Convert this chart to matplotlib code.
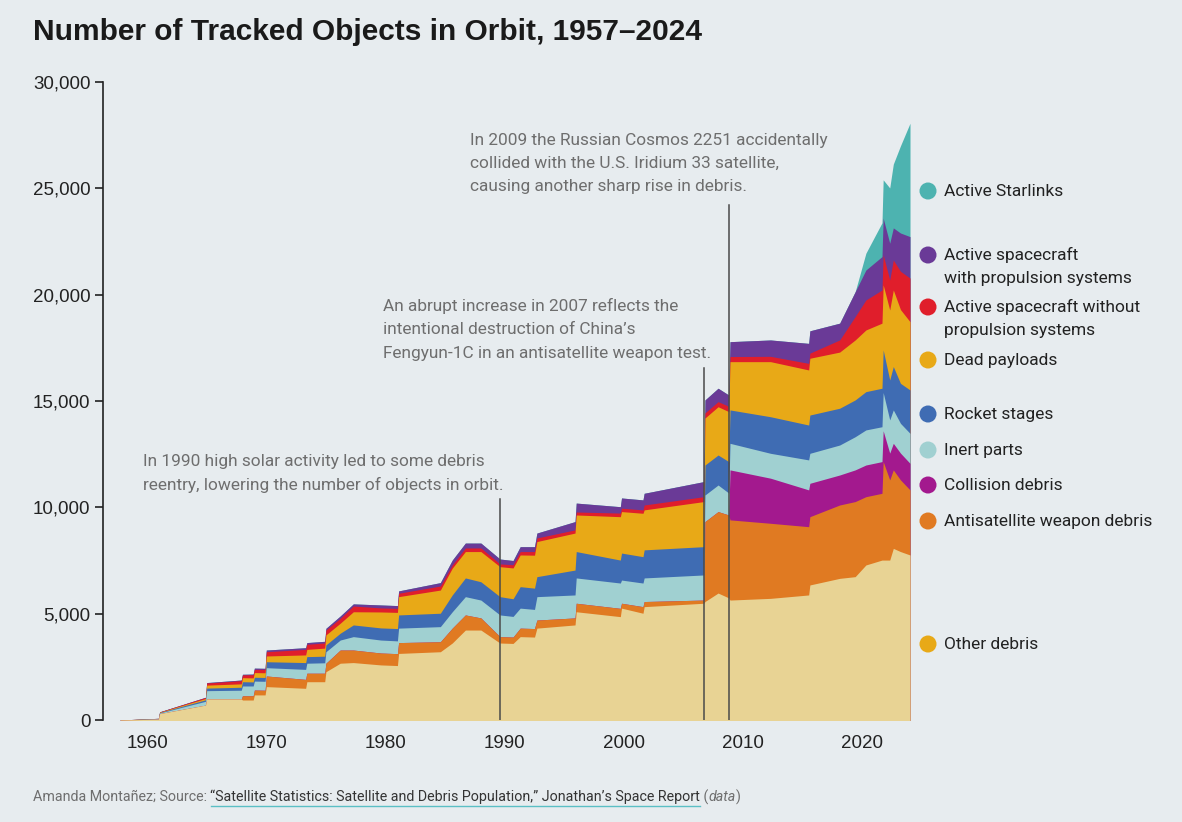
"""
Number of tracked objects in orbit, stacked by object type
"""

import matplotlib
matplotlib.use("Agg")
import matplotlib.pyplot as plt
import matplotlib.font_manager as fm
import numpy as np

# fonts: condensed face if we have one
names = {f.name for f in fm.fontManager.ttflist}
NARROW = 'Liberation Sans Narrow' if 'Liberation Sans Narrow' in names else 'Roboto'
PLAIN = 'Liberation Sans'

BG = '#E7ECEF'

# ---- data ----
years = [1957.75, 1960.95, 1961.05, 1964.9, 1965.0, 1967.9, 1968.0, 1968.9, 1969.0, 1969.9,
         1970.0, 1973.3, 1973.4, 1974.9, 1975.0, 1976.2, 1977.3, 1979.6, 1981.0, 1981.1,
         1984.6, 1985.6, 1986.7, 1988.0, 1989.6, 1990.7, 1991.3, 1992.5, 1992.7, 1995.9,
         1996.0, 1999.7, 1999.8, 2001.6, 2001.7, 2006.7, 2006.8, 2007.9, 2008.8, 2008.9,
         2012.3, 2015.5, 2015.6, 2018.1, 2019.4, 2020.3, 2021.65, 2021.75, 2022.3, 2022.6,
         2023.2, 2024.0]

other_debris = [1, 40, 300, 700, 990, 990, 940, 940, 1180, 1180,
                1570, 1490, 1800, 1800, 2270, 2670, 2700, 2590, 2560, 3130,
                3210, 3620, 4230, 4230, 3620, 3600, 3920, 3900, 4320, 4470,
                5090, 4860, 5260, 5020, 5330, 5490, 5570, 5970, 5740, 5640,
                5720, 5880, 6350, 6660, 6740, 7290, 7520, 7520, 7520, 8070,
                7920, 7760]
asat_debris = [0, 0, 0, 0, 0, 0, 200, 200, 230, 220,
               500, 420, 400, 400, 400, 620, 590, 560, 560, 510,
               470, 700, 710, 570, 300, 300, 400, 400, 380, 330,
               400, 390, 230, 310, 240, 150, 3760, 3830, 3900, 3770,
               3530, 3210, 3210, 3450, 3530, 3210, 3140, 4630, 3770, 3690,
               3370, 3060]
collision_debris = [0] * 39 + [2350, 2120, 1730, 1570, 1410, 1490, 1490, 1490, 1450,
                               1260, 1250, 1260, 1250]
inert_parts = [0, 15, 30, 180, 390, 410, 460, 460, 420, 420,
               390, 470, 470, 490, 540, 470, 630, 610, 600, 680,
               710, 770, 860, 840, 1020, 970, 940, 900, 1100, 1080,
               1190, 1190, 1090, 1110, 1110, 1180, 1250, 1250, 1030, 1250,
               1170, 1410, 1410, 1410, 1560, 1650, 1640, 1800, 1560, 1570,
               1400, 1410]
rocket_stages = [0, 10, 20, 70, 120, 140, 200, 190, 180, 180,
                 280, 320, 310, 310, 320, 320, 550, 570, 580, 620,
                 630, 790, 880, 860, 860, 830, 1010, 1000, 940, 1170,
                 1240, 1080, 1270, 1240, 1320, 1330, 1410, 1410, 1480, 1570,
                 1720, 1640, 1800, 1730, 1730, 1800, 1810, 2000, 1880, 2040,
                 1880, 2040]
dead_payloads = [0, 7, 15, 60, 140, 160, 190, 190, 220, 220,
                 270, 360, 340, 380, 470, 470, 620, 750, 760, 860,
                 1090, 1260, 1240, 1420, 1410, 1450, 1490, 1550, 1650, 1740,
                 1720, 2040, 1950, 2040, 1880, 2120, 2210, 2270, 2350, 2270,
                 2590, 2590, 2670, 2640, 2820, 2900, 3060, 3060, 3290, 3600,
                 3470, 3210]
active_no_prop = [0, 6, 15, 50, 100, 150, 130, 150, 150, 160,
                  200, 260, 240, 240, 230, 230, 270, 190, 190, 160,
                  190, 150, 170, 170, 130, 150, 160, 170, 170, 150,
                  140, 170, 160, 160, 230, 230, 240, 240, 250, 240,
                  250, 310, 240, 570, 1100, 1410, 1560, 1420, 1410, 1410,
                  1800, 2050]
active_prop = [0, 2, 5, 10, 20, 30, 30, 30, 60, 50,
               80, 80, 80, 80, 80, 110, 100, 140, 130, 110,
               160, 230, 230, 230, 230, 200, 230, 230, 230, 390,
               420, 300, 480, 470, 550, 710, 610, 630, 530, 700,
               770, 940, 1050, 790, 1170, 1410, 1570, 1720, 1730, 1510,
               1800, 1950]
starlinks = [0] * 44 + [0, 790, 1590, 1800, 2600, 3000, 4100, 5330]

labels = ['Other debris', 'Antisatellite weapon debris', 'Collision debris', 'Inert parts',
          'Rocket stages', 'Dead payloads', 'Active spacecraft without\npropulsion systems',
          'Active spacecraft\nwith propulsion systems', 'Active Starlinks']
colors = ['#E8D394', '#E07A22', '#A3198E', '#A0D0D1', '#3F6CB3',
          '#E8A917', '#E01E2B', '#6A3A97', '#4DB3B0']

# annotation lines: (year, top)
events = [(1989.6, 10400), (2006.72, 16550), (2008.85, 24220)]

# ---- figure ----
fig = plt.figure(figsize=(11.82, 8.22), dpi=100)
fig.patch.set_facecolor(BG)
ax = fig.add_axes([103 / 1182, 102 / 822, 807 / 1182, 638 / 822])
ax.set_facecolor(BG)

# stacked areas: each layer filled from below the axis to its running total,
# top layer first, so there are no hairline seams between neighbours
series = [other_debris, asat_debris, collision_debris, inert_parts, rocket_stages,
          dead_payloads, active_no_prop, active_prop, starlinks]
tops = np.cumsum(np.array(series, dtype=float), axis=0)
for top, col in reversed(list(zip(tops, colors))):
    ax.fill_between(years, -2000, top, color=col, linewidth=0)

for yr, top in events:
    ax.plot([yr, yr], [0, top], color='#4a4a4a', lw=1.1, zorder=5)

ax.set_xlim(1956.3, 2024.0)
ax.set_ylim(0, 30000)
for s in ['top', 'right', 'bottom']:
    ax.spines[s].set_visible(False)
ax.spines['left'].set_color('#222222')
ax.spines['left'].set_linewidth(1.2)

ax.set_yticks(range(0, 30001, 5000))
ax.set_yticklabels([f'{v:,}' for v in range(0, 30001, 5000)])
ax.set_xticks(range(1960, 2021, 10))
ax.tick_params(axis='y', length=6, width=1.2, color='#222222', pad=3,
               labelsize=13.5, labelcolor='#222222')
ax.tick_params(axis='x', length=0, pad=11, labelsize=13.5, labelcolor='#222222')
for lab in ax.get_xticklabels() + ax.get_yticklabels():
    lab.set_family(PLAIN)

# overlay in pixel coordinates for the texts
ov = fig.add_axes([0, 0, 1, 1])
ov.set_xlim(0, 1182)
ov.set_ylim(822, 0)
ov.axis('off')
ov.patch.set_alpha(0)

ov.text(33, 32, 'Number of Tracked Objects in Orbit, 1957–2024', fontsize=21.5,
        fontweight='bold', family=PLAIN, color='#1a1a1a', va='center')


def lines_at(x, y0, lines, step=23.5, **kw):
    for i, line in enumerate(lines):
        ov.text(x, y0 + i * step, line, va='center', **kw)


note_style = dict(fontsize=12.4, family=NARROW, color='#6e6e6e')
lines_at(143, 461, ['In 1990 high solar activity led to some debris',
                    'reentry, lowering the number of objects in orbit.'], **note_style)
lines_at(383, 306, ['An abrupt increase in 2007 reflects the',
                    'intentional destruction of China’s',
                    'Fengyun-1C in an antisatellite weapon test.'], **note_style)
lines_at(470, 140, ['In 2009 the Russian Cosmos 2251 accidentally',
                    'collided with the U.S. Iridium 33 satellite,',
                    'causing another sharp rise in debris.'], **note_style)

# legend
legend_y = [644, 521, 485, 450, 414, 360, 307, 255, 191]
dot_colors = ['#E8A917'] + colors[1:]
for lab, col, y in zip(labels, dot_colors, legend_y):
    ov.scatter([928], [y], s=150, color=col, edgecolor='none', zorder=3)
    lines_at(944, y, lab.split('\n'), step=23, fontsize=12.5, family=NARROW, color='#222222')

# footer, built from pieces
fig.canvas.draw()
rend = fig.canvas.get_renderer()
x = 33
pieces = [('Amanda Montañez; Source: ', '#6e6e6e', 'normal'),
          ('“Satellite Statistics: Satellite and Debris Population,” Jonathan’s Space Report',
           '#333333', 'normal'),
          (' (', '#6e6e6e', 'normal'), ('data', '#6e6e6e', 'italic'), (')', '#6e6e6e', 'normal')]
for txt, col, style in pieces:
    t = ov.text(x, 797, txt, fontsize=10.3, family=NARROW, color=col, style=style, va='center')
    w = t.get_window_extent(rend).width
    if txt.startswith('“'):
        ov.plot([x, x + w], [806, 806], color='#5BBFC5', lw=1)
    x += w

fig.savefig('out.png', dpi=100, facecolor=BG)
